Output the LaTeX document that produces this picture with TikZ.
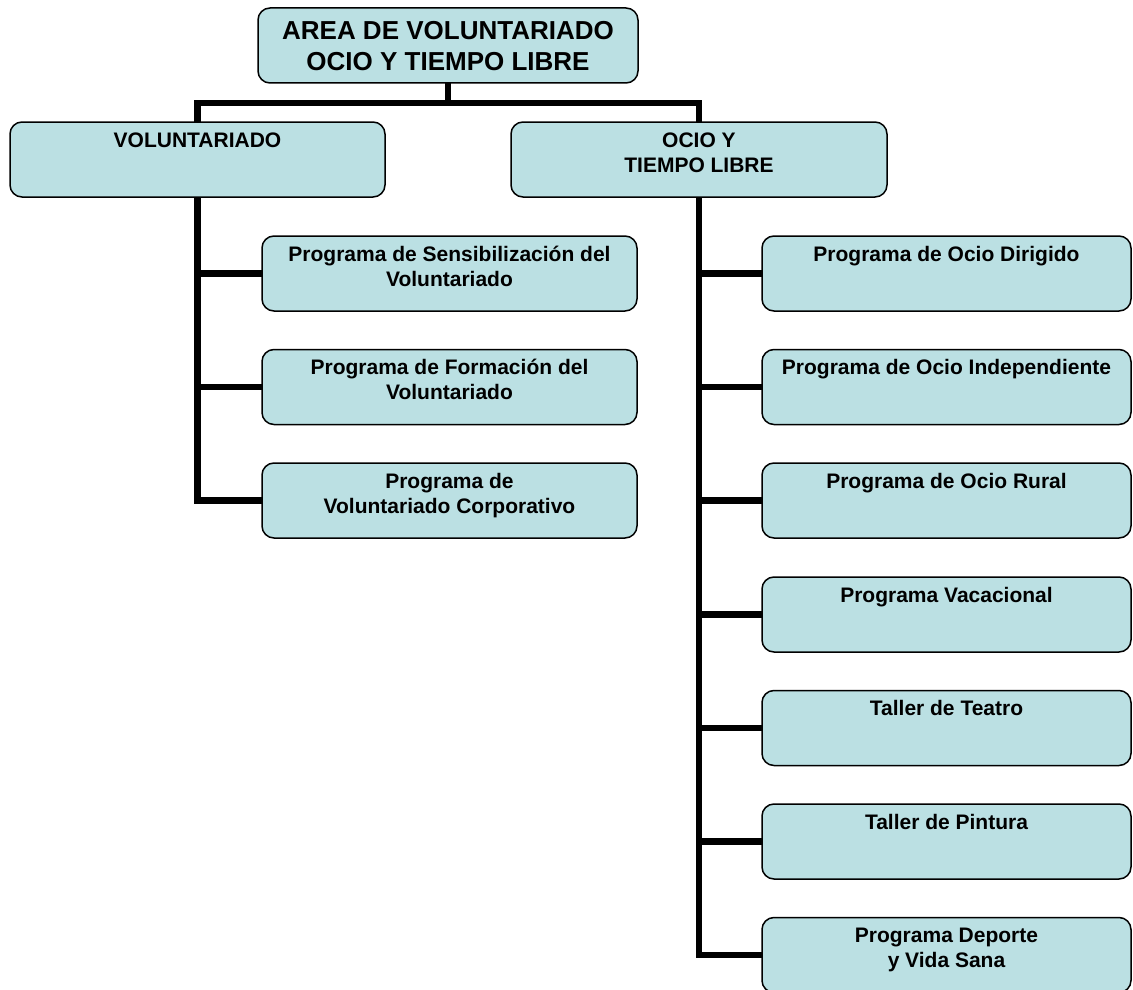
\documentclass[tikz,border=0pt]{standalone}
\usepackage{fontspec}
\setmainfont{Liberation Sans}
\definecolor{boxfill}{HTML}{BBE0E3}
\newcommand\bxt[4]{\parbox[c][#2][t]{#1}{\centering\rule{0pt}{#3}#4}}
\begin{document}
\begin{tikzpicture}[x=1pt,y=-1pt,
  orgbox/.style={draw=black, line width=1.5pt, fill=boxfill, rounded corners=12pt,
    inner sep=0pt, outer sep=0pt, anchor=north west,
    font=\bfseries\fontsize{21}{25}\selectfont},
  conn/.style={line width=6.5pt, line join=miter}]
\useasboundingbox (0,0) rectangle (1133,990);
% top
\node[orgbox, font=\bfseries\fontsize{26}{31}\selectfont] (top) at (258,8)
  {\bxt{380pt}{75pt}{31.5pt}{AREA DE VOLUNTARIADO\\OCIO Y TIEMPO LIBRE}};
% second level
\node[orgbox] (vol) at (10,122) {\bxt{375pt}{75pt}{25pt}{VOLUNTARIADO}};
\node[orgbox] (ocio) at (511,122) {\bxt{376pt}{75pt}{25pt}{OCIO Y\\TIEMPO LIBRE}};
% left children
\node[orgbox] (l1) at (262,236) {\bxt{375pt}{75pt}{25pt}{Programa de Sensibilización del\\Voluntariado}};
\node[orgbox] (l2) at (262,349.5) {\bxt{375pt}{75pt}{25pt}{Programa de Formación del\\Voluntariado}};
\node[orgbox] (l3) at (262,463) {\bxt{375pt}{75pt}{25pt}{Programa de\\Voluntariado Corporativo}};
% right children
\node[orgbox] (r1) at (762,236) {\bxt{369pt}{75pt}{25pt}{Programa de Ocio Dirigido}};
\node[orgbox] (r2) at (762,349.5) {\bxt{369pt}{75pt}{25pt}{Programa de Ocio Independiente}};
\node[orgbox] (r3) at (762,463) {\bxt{369pt}{75pt}{25pt}{Programa de Ocio Rural}};
\node[orgbox] (r4) at (762,577) {\bxt{369pt}{75pt}{25pt}{Programa Vacacional}};
\node[orgbox] (r5) at (762,690.5) {\bxt{369pt}{75pt}{25pt}{Taller de Teatro}};
\node[orgbox] (r6) at (762,804) {\bxt{369pt}{75pt}{25pt}{Taller de Pintura}};
\node[orgbox] (r7) at (762,917.5) {\bxt{369pt}{75pt}{25pt}{Programa Deporte\\y Vida Sana}};
% connectors
\coordinate (jn) at ([yshift=-20pt]top.south);
\draw[conn] (top.south) -- (jn);
\draw[conn] (vol.north) |- (jn) -| (ocio.north);
\draw[conn] (vol.south) |- (l3.west);
\draw[conn] (l1.west) -- (l1.west -| vol.south);
\draw[conn] (l2.west) -- (l2.west -| vol.south);
\draw[conn] (ocio.south) |- (r7.west);
\foreach \r in {r1,r2,r3,r4,r5,r6}
  \draw[conn] (\r.west) -- (\r.west -| ocio.south);
\end{tikzpicture}
\end{document}
